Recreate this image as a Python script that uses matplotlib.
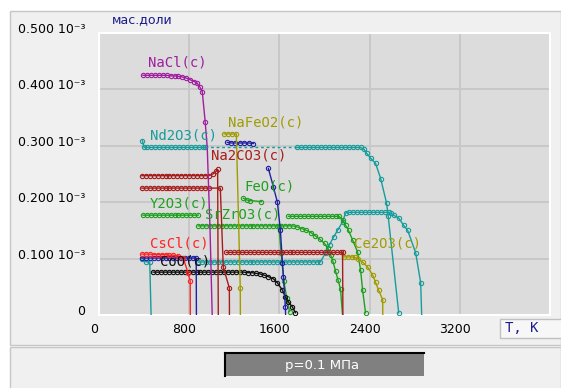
import matplotlib
matplotlib.use("Agg")
import matplotlib.pyplot as plt
import matplotlib.transforms as mtransforms
from matplotlib.patches import Rectangle

nan = float("nan")

# temperature, K  /  mass fraction, units of 1e-3
T_nacl = [390, 425, 460, 495, 530, 565, 600, 635, 670, 705, 740, 775, 810, 845, 871, 895, 916, 942, 960, 985, 1004]
Y_nacl = [0.425, 0.425, 0.425, 0.425, 0.425, 0.425, 0.425, 0.424, 0.424, 0.423, 0.422, 0.420, 0.417, 0.414, 0.411,
          0.404, 0.396, 0.342, 0.297, 0.150, 0.0]

T_nd2o3_a = [385, 400, 430, 465, 500, 535, 570, 605, 640, 675, 710, 745, 780, 815, 850, 885, 920, 942]
Y_nd2o3_a = [0.309, 0.297, 0.297, 0.297, 0.297, 0.297, 0.297, 0.297, 0.297, 0.297, 0.297, 0.297, 0.297, 0.297,
             0.297, 0.297, 0.297, 0.297]
T_nd2o3_b = [1760, 1795, 1830, 1865, 1900, 1935, 1970, 2005, 2040, 2075, 2110, 2145, 2180, 2215, 2250, 2285, 2320,
             2350, 2373, 2409, 2453, 2498, 2551, 2565, 2658]
Y_nd2o3_b = [0.297, 0.297, 0.297, 0.297, 0.297, 0.297, 0.297, 0.297, 0.297, 0.297, 0.297, 0.297, 0.297, 0.297,
             0.297, 0.297, 0.297, 0.294, 0.287, 0.278, 0.269, 0.242, 0.198, 0.175, 0.004]

T_teal2 = [385, 420, 450, 462]
Y_teal2 = [0.100, 0.094, 0.094, 0.0]

T_teal3 = [880, 915, 950, 985, 1020, 1055, 1090, 1125, 1160, 1195, 1230, 1265, 1300, 1335, 1370, 1405, 1440, 1475,
           1510, 1545, 1580, 1615, 1650, 1685, 1720, 1755, 1790, 1825, 1860, 1895, 1930, 1964,
           2009, 2045, 2080, 2116, 2160, 2187,
           2220, 2255, 2290, 2325, 2360, 2395, 2430, 2465, 2500, 2535, 2570, 2590,
           2613, 2658, 2702, 2738, 2809, 2853, 2862]
Y_teal3 = [0.094, 0.094, 0.094, 0.094, 0.094, 0.094, 0.094, 0.094, 0.094, 0.094, 0.094, 0.094, 0.094, 0.094,
           0.094, 0.094, 0.094, 0.094, 0.094, 0.094, 0.094, 0.094, 0.094, 0.094, 0.094, 0.094, 0.094, 0.094,
           0.094, 0.094, 0.094, 0.094,
           0.110, 0.125, 0.138, 0.150, 0.165, 0.181,
           0.182, 0.182, 0.182, 0.182, 0.182, 0.182, 0.182, 0.182, 0.182, 0.182, 0.182, 0.180,
           0.177, 0.172, 0.159, 0.150, 0.110, 0.057, 0.0]

T_srzro3 = [880, 915, 950, 985, 1020, 1055, 1090, 1125, 1160, 1195, 1230, 1265, 1300, 1335, 1370, 1405, 1440, 1475,
            1510, 1545, 1580, 1615, 1650, 1685, 1720,
            1760, 1800, 1840, 1880, 1920, 1960, 2000, 2030, 2055, 2075, 2098, 2120, 2142, 2160]
Y_srzro3 = [0.158, 0.158, 0.158, 0.158, 0.158, 0.158, 0.158, 0.158, 0.158, 0.158, 0.158, 0.158, 0.158, 0.158,
            0.158, 0.158, 0.158, 0.158, 0.158, 0.158, 0.158, 0.158, 0.158, 0.158, 0.158,
            0.156, 0.153, 0.150, 0.146, 0.140, 0.134, 0.127, 0.118, 0.106, 0.095, 0.078, 0.062, 0.046, 0.0]

T_y2o3 = [390, 425, 460, 495, 530, 565, 600, 635, 670, 705, 740, 775, 810, 845, 880, nan,
          1680, 1715, 1750, 1785, 1820, 1855, 1890, 1925, 1960, 1995, 2030, 2065, 2100, 2130,
          2160, 2187, 2213, 2249, 2293, 2320, 2338, 2364]
Y_y2o3 = [0.177, 0.177, 0.177, 0.177, 0.177, 0.177, 0.177, 0.177, 0.177, 0.177, 0.177, 0.177, 0.177, 0.177,
          0.177, nan,
          0.175, 0.175, 0.175, 0.175, 0.175, 0.175, 0.175, 0.175, 0.175, 0.175, 0.175, 0.175, 0.175, 0.175,
          0.168, 0.159, 0.150, 0.133, 0.112, 0.080, 0.044, 0.004]

T_feo = [1280, 1310, 1340, 1440, nan, 1595, 1615, 1640, 1665, 1690]
Y_feo = [0.207, 0.204, 0.203, 0.201, nan, 0.158, 0.110, 0.060, 0.030, 0.006]

T_blue2 = [380, 415, 450, 485, 520, 555, 590, 625, 660, 695, 730, 765, 800, 835, 862, 864]
Y_blue2 = [0.101, 0.101, 0.101, 0.101, 0.101, 0.101, 0.101, 0.101, 0.101, 0.101, 0.101, 0.101, 0.101, 0.101,
           0.101, 0.0]

T_cscl = [380, 415, 450, 485, 520, 555, 590, 625, 660, 700, 747, 791, 809, 810]
Y_cscl = [0.108, 0.108, 0.108, 0.107, 0.107, 0.107, 0.107, 0.106, 0.106, 0.105, 0.101, 0.074, 0.060, 0.0]

T_coo = [480, 515, 550, 585, 620, 655, 690, 725, 760, 795, 830, 865, 900, 935, 970, 1005, 1040, 1075, 1110, 1145,
         1180, 1215, 1250, 1285, 1320, 1355, 1390, 1425, 1460, 1502, 1547, 1582, 1627, 1653, 1680, 1716, 1742]
Y_coo = [0.076, 0.076, 0.076, 0.076, 0.076, 0.076, 0.076, 0.076, 0.076, 0.076, 0.076, 0.076, 0.076, 0.076,
         0.076, 0.076, 0.076, 0.076, 0.076, 0.076, 0.076, 0.076, 0.076, 0.076, 0.075, 0.075, 0.074, 0.073,
         0.071, 0.068, 0.064, 0.057, 0.044, 0.032, 0.023, 0.014, 0.004]

T_blue1 = [1138, 1175, 1210, 1250, 1290, 1330, 1369, nan, 1502, 1547, 1582, 1609, 1627, 1636, 1653, 1655]
Y_blue1 = [0.306, 0.305, 0.305, 0.305, 0.305, 0.305, 0.304, nan, 0.260, 0.227, 0.200, 0.150, 0.092, 0.067,
           0.014, 0.0]

T_nafeo2 = [1110, 1145, 1180, 1218, 1253, 1254]
Y_nafeo2 = [0.321, 0.321, 0.321, 0.321, 0.048, 0.0]

T_na2co3_1 = [380, 415, 450, 485, 520, 555, 590, 625, 660, 695, 730, 765, 800, 835, 870, 905, 940, 975, 1010,
              1040, 1052, 1058]
Y_na2co3_1 = [0.247, 0.247, 0.247, 0.247, 0.247, 0.247, 0.247, 0.247, 0.247, 0.247, 0.247, 0.247, 0.247, 0.247,
              0.247, 0.247, 0.247, 0.247, 0.250, 0.255, 0.258, 0.0]

T_na2co3_2 = [380, 415, 450, 485, 520, 555, 590, 625, 660, 695, 730, 765, 800, 835, 870, 905, 940, 975, 1076,
              1102, 1156, 1157]
Y_na2co3_2 = [0.225, 0.225, 0.225, 0.225, 0.225, 0.225, 0.225, 0.225, 0.225, 0.225, 0.225, 0.225, 0.225, 0.225,
              0.225, 0.225, 0.225, 0.225, 0.225, 0.085, 0.048, 0.0]

T_dred3 = [1130, 1165, 1200, 1235, 1270, 1305, 1340, 1375, 1410, 1445, 1480, 1515, 1550, 1585, 1620, 1655, 1690,
           1725, 1760, 1795, 1830, 1865, 1900, 1935, 1970, 2005, 2040, 2075, 2110, 2145, 2160, 2162, 2163]
Y_dred3 = [0.111, 0.111, 0.111, 0.111, 0.111, 0.111, 0.111, 0.111, 0.111, 0.111, 0.111, 0.111, 0.111, 0.111,
           0.111, 0.111, 0.111, 0.111, 0.111, 0.111, 0.111, 0.111, 0.111, 0.111, 0.111, 0.111, 0.111, 0.111,
           0.111, 0.111, 0.111, 0.048, 0.0]

T_ce2o3 = [2170, 2205, 2240, 2270, 2293, 2338, 2382, 2427, 2453, 2480, 2516, 2517]
Y_ce2o3 = [0.103, 0.103, 0.103, 0.102, 0.100, 0.094, 0.085, 0.071, 0.058, 0.044, 0.027, 0.0]

X_TICKS = [0, 800, 1600, 2400, 3200]
Y_TICKS = [0, 0.1, 0.2, 0.3, 0.4, 0.5]
Y_TICK_LABELS = ["0", "0.100 10\u207b\u00b3", "0.200 10\u207b\u00b3", "0.300 10\u207b\u00b3",
                 "0.400 10\u207b\u00b3", "0.500 10\u207b\u00b3"]

PURPLE = "#a01ea0"
TEAL = "#179c9c"
OLIVE = "#a09c00"
DRED = "#a81c1c"
GREEN = "#1ea01e"
RED = "#ff2424"
NAVY = "#2020a4"
BLACK = "#101010"

# (T, Y, colour, points at the end drawn without marker)
series = [
    (T_teal2, Y_teal2, TEAL, 1),
    (T_teal3, Y_teal3, TEAL, 1),
    (T_nd2o3_a, Y_nd2o3_a, TEAL, 0),
    (T_nd2o3_b, Y_nd2o3_b, TEAL, 0),
    (T_srzro3, Y_srzro3, GREEN, 1),
    (T_y2o3, Y_y2o3, GREEN, 0),
    (T_feo, Y_feo, GREEN, 0),
    (T_coo, Y_coo, BLACK, 0),
    (T_blue2, Y_blue2, NAVY, 1),
    (T_blue1, Y_blue1, NAVY, 1),
    (T_cscl, Y_cscl, RED, 1),
    (T_nafeo2, Y_nafeo2, OLIVE, 1),
    (T_ce2o3, Y_ce2o3, OLIVE, 1),
    (T_dred3, Y_dred3, DRED, 2),
    (T_na2co3_2, Y_na2co3_2, DRED, 1),
    (T_na2co3_1, Y_na2co3_1, DRED, 1),
    (T_nacl, Y_nacl, PURPLE, 3),
]

labels = [
    ("NaCl(c)", 436, 0.448, PURPLE),
    ("Nd2O3(c)", 453, 0.319, TEAL),
    ("NaFeO2(c)", 1147, 0.342, OLIVE),
    ("Na2CO3(c)", 996, 0.283, DRED),
    ("FeO(c)", 1289, 0.228, GREEN),
    ("Y2O3(c)", 453, 0.198, GREEN),
    ("SrZrO3(c)", 942, 0.179, GREEN),
    ("CsCl(c)", 453, 0.127, RED),
    ("CoO(c)", 542, 0.094, BLACK),
    ("Ce2O3(c)", 2258, 0.127, OLIVE),
]

W, H = 561, 388
fig = plt.figure(figsize=(W / 100, H / 100), dpi=100, facecolor="white")


def box(x0, y0, x1, y1, z=-1, **kw):
    fig.patches.append(Rectangle((x0 / W, 1 - y1 / H), (x1 - x0) / W, (y1 - y0) / H,
                                 transform=fig.transFigure, zorder=z, **kw))


box(10, 11, 561, 345, facecolor="#f0f0f0", edgecolor="#c6c6c6", lw=1.0)
box(10, 347, 561, 389, facecolor="#f0f0f0", edgecolor="#c6c6c6", lw=1.0)

ax = fig.add_axes([99 / W, 1 - 315 / H, 451 / W, 282 / H])
ax.set_facecolor("#dcdcdc")
ax.set_xlim(0, 4000)
ax.set_ylim(0, 0.5)
ax.set_xticks(X_TICKS)
ax.set_xticklabels([str(t) for t in X_TICKS], fontsize=9, family="DejaVu Sans")
ax.set_yticks(Y_TICKS)
ax.set_yticklabels(Y_TICK_LABELS, fontsize=9, family="DejaVu Sans")
ax.tick_params(length=0)
ax.tick_params(axis="y", pad=10)
ax.tick_params(axis="x", pad=6)
for lab in ax.get_yticklabels():
    lab.set_transform(lab.get_transform() + mtransforms.ScaledTranslation(0, 0.05, fig.dpi_scale_trans))
for lab in ax.get_xticklabels():
    lab.set_transform(lab.get_transform() + mtransforms.ScaledTranslation(-0.05, 0, fig.dpi_scale_trans))
ax.grid(True, color="#c8c8c8", lw=1.4)
ax.set_axisbelow(True)
for sp in ax.spines.values():
    sp.set_color("white")
    sp.set_linewidth(1.5)

for T, Y, color, tail in series:
    ax.plot(T, Y, color=color, lw=1.0, marker="o", ms=3.1, mfc="none", mew=0.8,
            markevery=list(range(len(T) - tail)), zorder=3)

# unresolved stretch of the Nd2O3 curve, shown dotted
ax.plot([T_nd2o3_a[-1], T_nd2o3_b[0]], [Y_nd2o3_a[-1], Y_nd2o3_b[0]], color=TEAL, lw=1.0,
        ls=(0, (2, 2)), zorder=3)

for text, x, y, color in labels:
    ax.text(x, y, text, color=color, fontsize=10, family="DejaVu Sans Mono", va="center", ha="left", zorder=4)

fig.text(112 / W, 1 - 20 / H, "мас.доли", color="#1a1a8c", fontsize=9, va="center", ha="left")

box(500, 319, 562, 338, z=1, facecolor="#f7f7f7", edgecolor="#c0c0c0", lw=1.0)
fig.text(505 / W, 1 - 328 / H, "T, K", color="#1a1a8c", fontsize=10, family="DejaVu Sans Mono",
         va="center", ha="left")

box(225, 353, 424, 376, z=1, facecolor="#808080", edgecolor="none")
fig.lines.append(plt.Line2D([225 / W, 424 / W], [1 - 353 / H, 1 - 353 / H], transform=fig.transFigure,
                            color="black", lw=1.5))
fig.lines.append(plt.Line2D([225 / W, 225 / W], [1 - 353 / H, 1 - 376 / H], transform=fig.transFigure,
                            color="black", lw=1.5))
fig.text(322 / W, 1 - 365 / H, "p=0.1 МПа", color="white", fontsize=9.5, va="center", ha="center")

fig.savefig("out.png", dpi=100, facecolor="white")
